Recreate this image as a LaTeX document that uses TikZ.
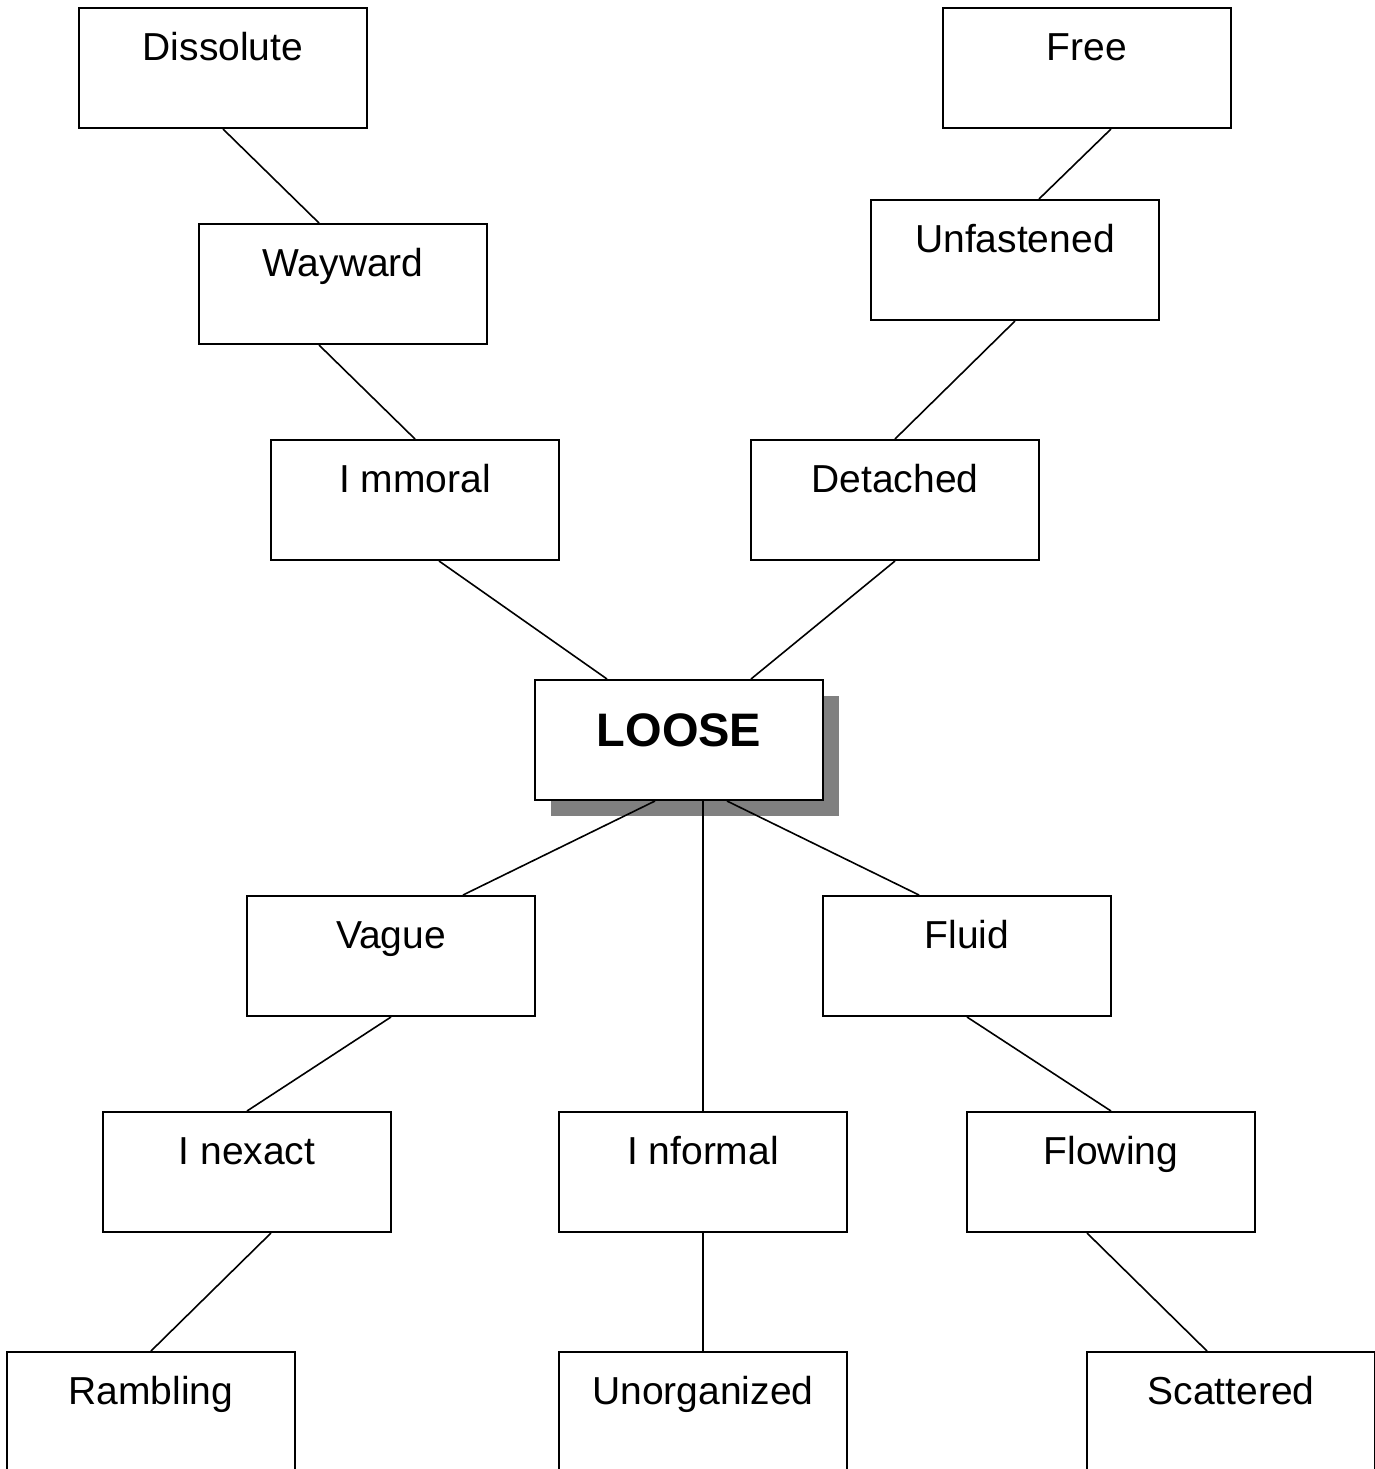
\documentclass[tikz,border=0pt]{standalone}
\usepackage{fontspec}
\setmainfont{Liberation Sans}
\usepackage{tikz}
\usetikzlibrary{shadows}

\begin{document}
\begin{tikzpicture}[x=0.5pt, y=-0.5pt,
		word/.style={draw, fill=white, line width=1pt, minimum width=144pt, minimum height=60pt,
			inner sep=0pt, text height=14pt, text depth=22pt, font=\fontsize{19.5}{22}\selectfont},
		hub/.style={word, text height=17pt, text depth=11pt, font=\fontsize{23.5}{26}\selectfont\bfseries,
			drop shadow={shadow xshift=8pt, shadow yshift=-8pt, fill=black!50, opacity=1}},
		link/.style={line width=0.8pt}]
	\useasboundingbox (0,0) rectangle (1375,1469);
	% upper branches
	\node[word] (dissolute) at (223,68) {Dissolute};
	\node[word] (wayward) at (343,284) {Wayward};
	\node[word] (immoral) at (415,500) {I mmoral};
	\node[word] (free) at (1087,68) {Free};
	\node[word] (unfastened) at (1015,260) {Unfastened};
	\node[word] (detached) at (895,500) {Detached};
	% centre
	\node[hub] (loose) at (679,740) {LOOSE};
	% lower branches
	\node[word] (vague) at (391,956) {Vague};
	\node[word] (fluid) at (967,956) {Fluid};
	\node[word] (inexact) at (247,1172) {I nexact};
	\node[word] (informal) at (703,1172) {I nformal};
	\node[word] (flowing) at (1111,1172) {Flowing};
	\node[word] (rambling) at (151,1412) {Rambling};
	\node[word] (unorganized) at (703,1412) {Unorganized};
	\node[word] (scattered) at (1231,1412) {Scattered};

	\draw[link] (dissolute.south) -- ([xshift=-12pt]wayward.north);
	\draw[link] ([xshift=-12pt]wayward.south) -- (immoral.north);
	\draw[link] ([xshift=12pt]immoral.south) -- ([xshift=-36pt]loose.north);
	\draw[link] ([xshift=12pt]free.south) -- ([xshift=12pt]unfastened.north);
	\draw[link] (unfastened.south) -- (detached.north);
	\draw[link] (detached.south) -- ([xshift=36pt]loose.north);
	\draw[link] ([xshift=-12pt]loose.south) -- ([xshift=36pt]vague.north);
	\draw[link] ([xshift=12pt]loose.south) -- (informal.north);
	\draw[link] ([xshift=24pt]loose.south) -- ([xshift=-24pt]fluid.north);
	\draw[link] (vague.south) -- (inexact.north);
	\draw[link] (fluid.south) -- (flowing.north);
	\draw[link] ([xshift=12pt]inexact.south) -- (rambling.north);
	\draw[link] (informal.south) -- (unorganized.north);
	\draw[link] ([xshift=-12pt]flowing.south) -- ([xshift=-12pt]scattered.north);
\end{tikzpicture}
\end{document}
